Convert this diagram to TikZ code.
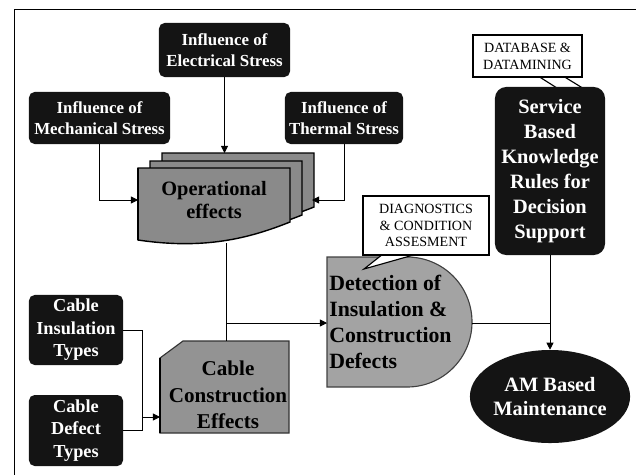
\documentclass[tikz,border=0pt]{standalone}
\usepackage{fontspec}
\setmainfont{Liberation Serif}
\usetikzlibrary{arrows.meta,shapes.geometric}
\definecolor{boxblack}{HTML}{141414}
\definecolor{opsgray}{HTML}{8A8A8A}
\definecolor{ccgray}{HTML}{939393}
\definecolor{detgray}{HTML}{A3A3A3}
\tikzset{
	stressbox/.style={rounded corners=4pt,fill=boxblack,text=white,align=center,inner sep=0pt,
		font=\bfseries\fontsize{12}{15}\selectfont},
	callout/.style={draw,line width=0.8pt,fill=white,align=center,inner sep=0pt,
		font=\fontsize{10}{12}\selectfont},
	graytext/.style={text=black,inner sep=0pt,font=\bfseries\fontsize{15}{18.7}\selectfont},
	flow/.style={line width=0.6pt,-{Triangle[length=5pt,width=5pt]}},
	link/.style={line width=0.6pt}
}
\begin{document}
\begin{tikzpicture}[x=0.025cm,y=-0.025cm]
	\useasboundingbox (0,0) rectangle (636,475);
	\coordinate (opstop) at (225,153);
	\coordinate (opsin) at (138,200);
	\coordinate (opsright) at (312,200);
	\coordinate (opsbottom) at (226,243);
	\coordinate (cctop) at (226,341);
	\coordinate (ccin) at (160,417);
	\coordinate (cbar) at (142,417);
	\coordinate (jn) at (226,323);
	\coordinate (detin) at (327,323);
	\coordinate (detout) at (472,323);
	% frame
	\draw[line width=0.6pt] (636,9) -- (14,9) -- (14,475);
	% operational effects, three sheets
	\foreach \dx/\dy in {24/-15,12/-7,0/0}
		\filldraw[fill=opsgray,draw=black,line width=1pt,shift={(\dx,\dy)}] (138,168) -- (290,168) -- (290,222) .. controls (250,238) and (205,250) .. (138,240) -- cycle;
	\draw[line width=2pt] (138,168) -- (138,240);
	\node[graytext,align=center,font=\bfseries\fontsize{14.5}{17}\selectfont] (opseffects) at (214,200) {Operational\\effects};
	% cable construction effects
	\filldraw[fill=ccgray,draw=black!80,line width=0.8pt] (160,358) -- (183,341) -- (289,341) -- (289,433) -- (160,433) -- cycle;
	\draw[line width=2pt] (160,358) -- (160,433);
	\node[graytext,align=center] (constreffects) at (228,395) {Cable\\Construction\\Effects};
	% detection
	\filldraw[fill=detgray,draw=black!75,line width=0.8pt] (327,257) -- (407,257) .. controls (443,257) and (472,286) .. (472,322) .. controls (472,358) and (443,387) .. (407,387) -- (327,387) -- cycle;
	\node[graytext,align=left,anchor=west,font=\bfseries\fontsize{15.5}{18.6}\selectfont] (detection) at (329,322) {Detection of\\Insulation \&\\Construction\\Defects};
	% black boxes
	\node[stressbox,minimum width=3.275cm,minimum height=1.35cm] (elecstress) at (224.5,50) {Influence of\\Electrical Stress};
	\node[stressbox,minimum width=3.525cm,minimum height=1.3cm] (mechstress) at (99.5,118) {Influence of\\Mechanical Stress};
	\node[stressbox,minimum width=2.95cm,minimum height=1.3cm] (thermstress) at (344,118) {Influence of\\Thermal Stress};
	\node[stressbox,minimum width=2.35cm,minimum height=1.75cm,font=\bfseries\fontsize{13}{16}\selectfont] (cableins) at (76,330) {Cable\\Insulation\\Types};
	\node[stressbox,minimum width=2.35cm,minimum height=1.775cm,font=\bfseries\fontsize{13}{16}\selectfont] (cabledef) at (76,430.5) {Cable\\Defect\\Types};
	% service rules and its callout
	\filldraw[fill=white,line width=0.8pt] (538,76) -- (568,95) -- (594,95) -- (563,76);
	\node[stressbox,rounded corners=8pt,minimum width=2.75cm,minimum height=4.2cm,font=\bfseries\fontsize{14.5}{17.7}\selectfont] (servicerules) at (550,171) {Service\\Based\\Knowledge\\Rules for\\Decision\\Support};
	\node[callout,minimum width=2.725cm,minimum height=1.05cm] (dbcallout) at (527.5,56) {DATABASE \&\\DATAMINING};
	\node[ellipse,fill=boxblack,text=white,align=center,inner sep=0pt,minimum width=3.9cm,minimum height=2.325cm,font=\bfseries\fontsize{14.5}{16.5}\selectfont] (ammaint) at (550,396.5) {AM Based\\Maintenance};
	% diagnostics callout
	\filldraw[fill=white,line width=0.8pt] (383,254) -- (364,269) -- (417,254);
	\node[callout,minimum width=3.15cm,minimum height=1.475cm] (diagcallout) at (426,225.5) {DIAGNOSTICS\\\& CONDITION\\ASSESMENT};
	% connectors
	\draw[flow] (elecstress.south) -- (elecstress.south |- opstop);
	\draw[flow] (mechstress.south) |- (opsin);
	\draw[flow] (thermstress.south) |- (opsright);
	\draw[link] (opsbottom) -- (cctop);
	\draw[flow] (jn) -- (detin);
	\draw[link] (cableins.east) -| (cbar);
	\draw[link] (cabledef.east) -| (cbar);
	\draw[flow] (cbar) -- (ccin);
	\draw[link] (detout) -- (servicerules.south |- detout);
	\draw[flow] (servicerules.south) -- (ammaint.north);
\end{tikzpicture}
\end{document}
